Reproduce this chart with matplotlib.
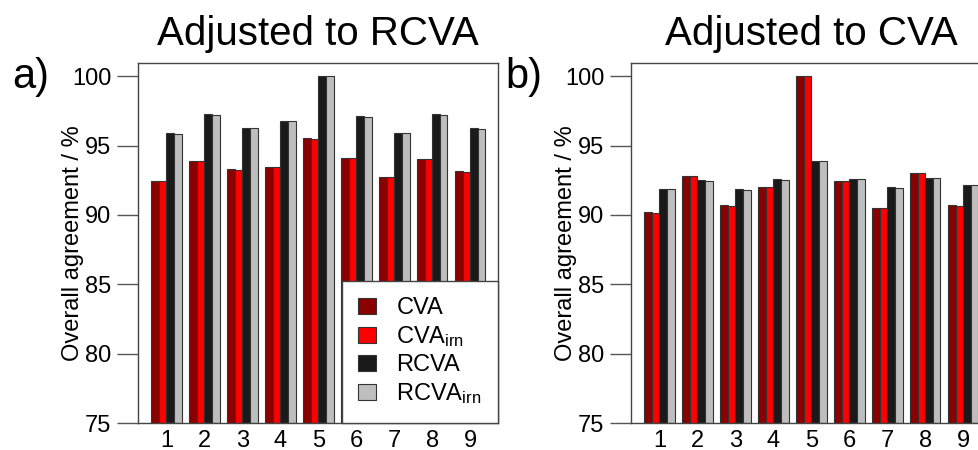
import numpy as np
import matplotlib
matplotlib.use("Agg")
import matplotlib.pyplot as plt
from matplotlib.patches import Patch

plt.rcParams['font.family'] = ['Liberation Sans', 'DejaVu Sans']
plt.rcParams['mathtext.fontset'] = 'custom'
plt.rcParams['mathtext.rm'] = 'Liberation Sans'
plt.rcParams['mathtext.it'] = 'Liberation Sans'

groups = ['1', '2', '3', '4', '5', '6', '7', '8', '9']
series = ['CVA', 'CVA$_{\\mathrm{irn}}$', 'RCVA', 'RCVA$_{\\mathrm{irn}}$']
colors = ['#8b0000', '#ff0000', '#1a1a1a', '#bebebe']

# panel a) adjusted to RCVA
a_cva = [92.47, 93.91, 93.28, 93.47, 95.51, 94.12, 92.75, 94.03, 93.16]
a_cva_irn = [92.43, 93.88, 93.26, 93.45, 95.49, 94.10, 92.73, 94.00, 93.11]
a_rcva = [95.87, 97.24, 96.28, 96.79, 100.0, 97.10, 95.92, 97.24, 96.23]
a_rcva_irn = [95.85, 97.17, 96.23, 96.74, 100.0, 97.08, 95.90, 97.22, 96.21]

# panel b) adjusted to CVA
b_cva = [90.19, 92.84, 90.70, 92.04, 100.0, 92.48, 90.53, 93.01, 90.70]
b_cva_irn = [90.17, 92.81, 90.67, 92.02, 100.0, 92.48, 90.51, 92.99, 90.65]
b_rcva = [91.90, 92.50, 91.85, 92.57, 93.92, 92.60, 92.00, 92.69, 92.14]
b_rcva_irn = [91.85, 92.45, 91.80, 92.55, 93.90, 92.60, 91.97, 92.67, 92.14]

fig = plt.figure(figsize=(9.79, 4.5), dpi=100)
ax1 = fig.add_axes([138/979, 27/450, 360/979, 360/450])
ax2 = fig.add_axes([631/979, 27/450, 360/979, 360/450])


def draw(ax, data, title, tag, legend=False):
	x = np.arange(len(groups)) * 5
	for j in range(4):
		ax.bar(x + j + 0.5, np.array(data[j]) - 75, width=1, bottom=75,
			color=colors[j], edgecolor='#333333', linewidth=0.8)
	ax.set_xlim(-1.75, 45.65)
	ax.set_ylim(75, 100.95)
	ax.set_yticks([75, 80, 85, 90, 95, 100])
	ax.set_xticks(x + 2)
	ax.set_xticklabels(groups)
	ax.tick_params(axis='y', length=15, width=1, color='#555555', labelsize=17, pad=4)
	ax.tick_params(axis='x', length=0, labelsize=17, pad=5)
	for s in ax.spines.values():
		s.set_color('#444444')
		s.set_linewidth(1)
	ax.set_ylabel('Overall agreement / %', fontsize=17)
	ax.yaxis.set_label_coords(-0.15, 0.5)
	ax.set_title(title, fontsize=29, pad=13)
	ax.text(-0.35, 0.961, tag, transform=ax.transAxes, fontsize=30, va='center', ha='left')
	if legend:
		handles = [Patch(facecolor=colors[j], edgecolor='#333333', linewidth=0.8) for j in range(4)]
		leg = ax.legend(handles, series, loc='lower right', bbox_to_anchor=(1, 0),
			borderaxespad=0, fancybox=False, framealpha=1, edgecolor='#444444',
			fontsize=17, handlelength=0.77, handleheight=0.64, handletextpad=0.85,
			borderpad=0.7, labelspacing=0.22)
		leg.get_frame().set_linewidth(1)


draw(ax1, [a_cva, a_cva_irn, a_rcva, a_rcva_irn], 'Adjusted to RCVA', 'a)', legend=True)
draw(ax2, [b_cva, b_cva_irn, b_rcva, b_rcva_irn], 'Adjusted to CVA', 'b)')

fig.savefig('out.png', dpi=100)
